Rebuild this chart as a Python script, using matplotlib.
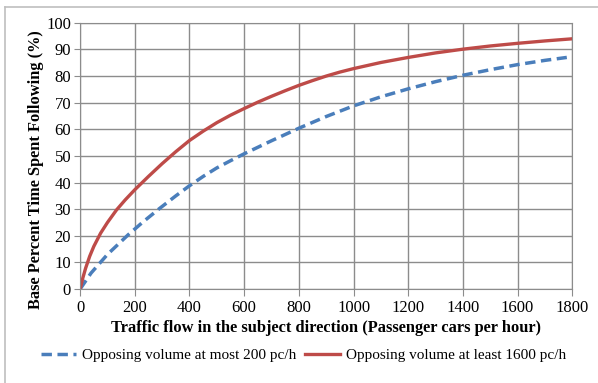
import numpy as np
import matplotlib
matplotlib.use("Agg")
import matplotlib.pyplot as plt
from matplotlib.lines import Line2D

# opposing volume at most 200 pc/h
flow_low = [0, 40, 100, 176, 230, 291, 350, 400, 450, 500, 550, 600, 700, 800,
            900, 1000, 1100, 1200, 1300, 1400, 1500, 1600, 1700, 1780]
low_opp = [0, 6.0, 13.0, 20.4, 25.2, 30.3, 35.0, 38.8, 42.3, 45.5, 48.2, 50.8,
           55.7, 60.4, 64.8, 68.8, 72.2, 75.2, 77.9, 80.3, 82.4, 84.3, 85.9, 87.0]

# opposing volume at least 1600 pc/h
flow_high = [0, 10, 20, 35, 50, 75, 100, 133, 165, 200, 250, 300, 350, 400, 450,
             500, 550, 600, 650, 700, 750, 800, 850, 900, 950, 1000, 1100, 1200,
             1300, 1400, 1500, 1600, 1700, 1800]
high_opp = [0, 4.2, 7.8, 12.3, 16.0, 21.0, 25.0, 29.7, 33.5, 37.3, 42.3, 47.1,
            51.6, 55.8, 59.3, 62.5, 65.3, 67.8, 70.2, 72.4, 74.5, 76.5, 78.3,
            80.0, 81.5, 82.8, 85.1, 87.0, 88.7, 90.1, 91.3, 92.3, 93.2, 94.0]

plt.rcParams['font.family'] = ['Liberation Serif', 'DejaVu Serif']

fig = plt.figure(figsize=(5.98, 3.83), dpi=100)
ax = fig.add_axes([0.134, 0.2454, 0.823, 0.695])

ax.plot(flow_low, low_opp, color='#4a7ebb', lw=2.5, ls=(0, (3, 1.6)),
        label='Opposing volume at most 200 pc/h')
ax.plot(flow_high, high_opp, color='#be4b48', lw=2.4,
        label='Opposing volume at least 1600 pc/h')

ax.set_xlim(0, 1800)
ax.set_ylim(0, 100)
ax.set_xticks(np.arange(0, 1801, 200))
ax.set_yticks(np.arange(0, 101, 10))
ax.grid(True, color='#8c8c8c', lw=1)
ax.set_axisbelow(True)
for s in ax.spines.values():
    s.set_color('#8c8c8c')
ax.tick_params(colors='#8c8c8c', labelcolor='black', labelsize=12)
ax.tick_params(axis='x', length=5, pad=3)
ax.tick_params(axis='y', length=4, pad=2.5)

ax.set_xlabel('Traffic flow in the subject direction (Passenger cars per hour)',
              fontsize=11.8, fontweight='bold', labelpad=3)
ax.set_ylabel('Base Percent Time Spent Following (%)',
              fontsize=11.8, fontweight='bold')
ax.yaxis.set_label_coords(-0.073, 0.45)

fig.legend(loc='center', bbox_to_anchor=(0.5075, 0.073), ncol=2, frameon=False,
           fontsize=11, handlelength=2.3, columnspacing=0.55, handletextpad=0.4)

# chart border (only left and top visible)
fig.add_artist(Line2D([5 / 598, 5 / 598], [0, 1 - 7 / 383], color='#bfbfbf', lw=1.2,
                      transform=fig.transFigure))
fig.add_artist(Line2D([5 / 598, 1], [1 - 7 / 383, 1 - 7 / 383], color='#bfbfbf', lw=1.2,
                      transform=fig.transFigure))

fig.savefig('out.png', dpi=100)
